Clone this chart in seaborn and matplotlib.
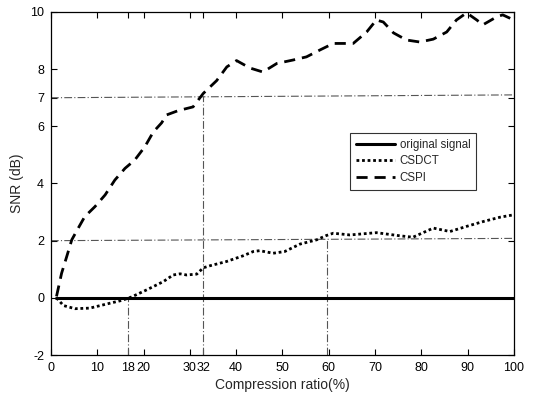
import numpy as np
import pandas as pd
import seaborn as sns
import matplotlib
matplotlib.use("Agg")
import matplotlib.pyplot as plt

# ---- data ----
cspi_x = [1.2, 2.3, 3.4, 4.5, 5.9, 7.3, 9.5, 11.7, 13.8, 16.0, 18.1, 20.3, 22.1, 23.9,
          25.0, 27.5, 30.7, 32.9, 35.8, 38.0, 40.1, 43.0, 45.8, 48.8, 52.3, 55.2, 58.1,
          61.0, 65.3, 68.2, 70.3, 71.8, 74.0, 76.8, 79.7, 82.6, 85.5, 87.6, 89.8, 92.0,
          93.3, 96.3, 97.6, 99.6]
cspi_y = [0.05, 0.86, 1.44, 2.03, 2.44, 2.84, 3.19, 3.60, 4.12, 4.53, 4.82, 5.29, 5.80, 6.12,
          6.40, 6.55, 6.68, 7.15, 7.60, 8.08, 8.30, 8.04, 7.90, 8.20, 8.32, 8.43, 8.67,
          8.90, 8.90, 9.30, 9.72, 9.65, 9.27, 9.02, 8.95, 9.05, 9.30, 9.72, 9.97, 9.72,
          9.55, 9.83, 9.90, 9.75]

csdct_x = [1.2, 2.7, 5.2, 8.4, 12.7, 15.3, 17.4, 20.7, 24.3, 26.4, 27.9, 29.3, 31.5, 32.9,
           34.3, 37.9, 41.5, 43.7, 45.1, 48.0, 50.5, 53.8, 57.4, 59.5, 61.0, 64.6, 70.3,
           75.4, 78.2, 82.6, 86.2, 89.8, 93.4, 97.0, 99.8]
csdct_y = [0.0, -0.27, -0.38, -0.36, -0.19, -0.09, 0.03, 0.28, 0.57, 0.80, 0.84, 0.80, 0.83, 1.05,
           1.12, 1.27, 1.47, 1.62, 1.65, 1.56, 1.62, 1.88, 2.03, 2.18, 2.26, 2.20, 2.28,
           2.17, 2.12, 2.44, 2.32, 2.50, 2.67, 2.82, 2.90]

orig_x = [1.0, 100.0]
orig_y = [0.0, 0.0]

series_names = ["original signal", "CSDCT", "CSPI"]

xtick_pos = [0, 10, 16.6, 20, 30, 32.9, 40, 50, 60, 70, 80, 90, 100]
xtick_labels = ["0", "10", "18", "20", "30", "32", "40", "50", "60", "70", "80", "90", "100"]
ytick_pos = [-2, 0, 2, 4, 6, 7, 8, 10]
ytick_labels = ["-2", "0", "2", "4", "6", "7", "8", "10"]

# reference guide lines (x pairs, y pairs)
guide_h7 = ([0, 100], [7.0, 7.1])
guide_h2 = ([0, 100], [2.0, 2.08])
guide_v18 = ([16.6, 16.6], [-2, 0])
guide_v32 = ([32.9, 32.9], [-2, 7.05])
guide_v60 = ([59.7, 59.7], [-2, 2.05])

# ---- plotting ----
sns.set_style("ticks")
plt.rcParams["font.family"] = ["Liberation Sans", "DejaVu Sans"]

fig = plt.figure(figsize=(5.42, 4.0), dpi=100)
ax = fig.add_axes([0.094, 0.1125, 0.854, 0.8575])

guide_kw = dict(color="#555555", lw=0.8, linestyle=(0, (7, 2, 1, 2)))
for gx, gy in [guide_h7, guide_h2, guide_v18, guide_v32, guide_v60]:
    ax.plot(gx, gy, **guide_kw, zorder=1)

df_o = pd.DataFrame({"x": orig_x, "y": orig_y})
df_d = pd.DataFrame({"x": csdct_x, "y": csdct_y})
df_p = pd.DataFrame({"x": cspi_x, "y": cspi_y})

sns.lineplot(data=df_o, x="x", y="y", ax=ax, color="black", lw=2.2, label=series_names[0],
             sort=False, zorder=3)
sns.lineplot(data=df_d, x="x", y="y", ax=ax, color="black", lw=2.0, label=series_names[1],
             sort=False, zorder=3)
sns.lineplot(data=df_p, x="x", y="y", ax=ax, color="black", lw=2.0, label=series_names[2],
             sort=False, zorder=3)
lines = ax.get_lines()
lines[-2].set_linestyle((0, (1, 1)))
lines[-1].set_linestyle((0, (4, 2.5)))

ax.set_xlim(0, 100)
ax.set_ylim(-2, 10)
ax.set_xticks(xtick_pos)
ax.set_xticklabels(xtick_labels)
ax.set_yticks(ytick_pos)
ax.set_yticklabels(ytick_labels)
ax.tick_params(direction="in", top=True, right=True, labelsize=9, length=4, width=0.8,
               colors="black", pad=5)
for s in ax.spines.values():
    s.set_linewidth(0.9)
    s.set_color("black")
ax.set_xlabel("Compression ratio(%)", fontsize=10, labelpad=3)
ax.set_ylabel("SNR (dB)", fontsize=10, labelpad=4)

h, l = ax.get_legend_handles_labels()
leg = ax.legend(h, l, loc="upper left", bbox_to_anchor=(0.646, 0.647), fontsize=8.3,
                frameon=True, fancybox=False, edgecolor="black", handlelength=3.4,
                borderpad=0.5, labelspacing=0.4, handletextpad=0.4, borderaxespad=0)
leg.get_frame().set_linewidth(0.8)

fig.savefig("out.png", dpi=100)
